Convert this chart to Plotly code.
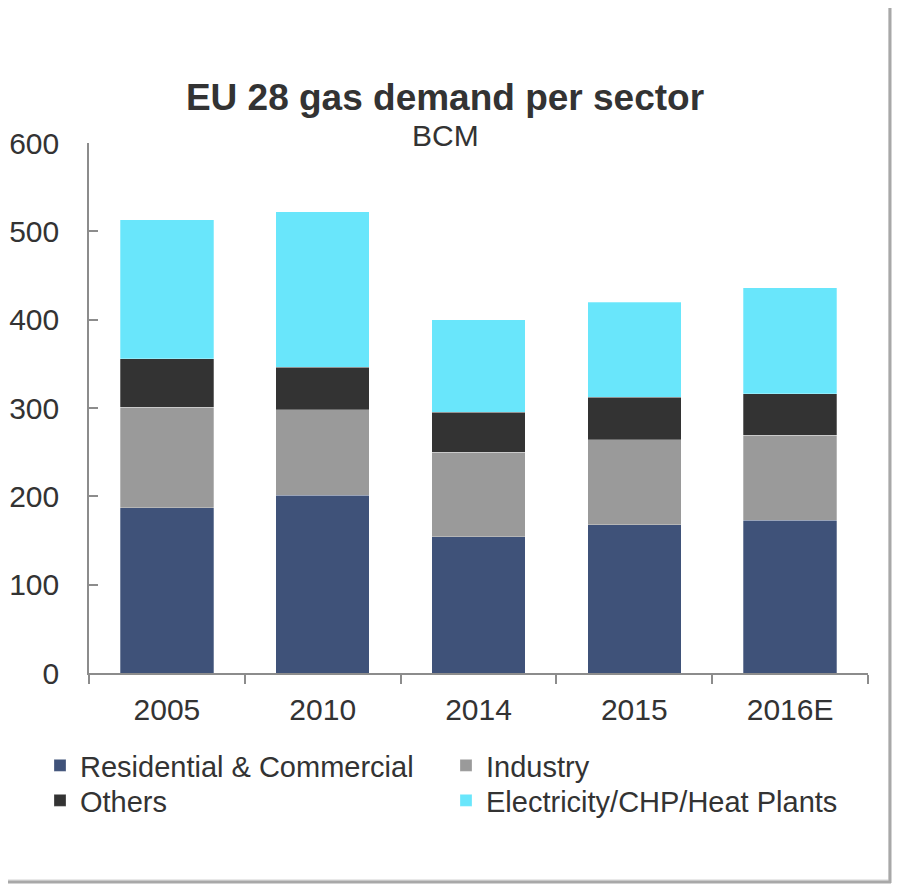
import plotly.graph_objects as go

# EU 28 gas demand per sector, BCM
years = ["2005", "2010", "2014", "2015", "2016E"]
residential = [187, 201, 154, 168, 173]
industry = [114, 97, 96, 96, 96]
others = [55, 48, 45, 48, 47]
electricity = [157, 176, 105, 108, 120]

series = [
    ("Residential & Commercial", residential, "#3F5279", "legend"),
    ("Industry", industry, "#9A9A9A", "legend"),
    ("Others", others, "#333333", "legend2"),
    ("Electricity/CHP/Heat Plants", electricity, "#69E6FB", "legend2"),
]

FONT = "Liberation Sans, Arial, sans-serif"
TXT = "#333333"
AX = "#8C8C8C"

# the page body adds an 8px offset, so the figure is 8px smaller and all
# target positions below are given in page pixels and shifted by OFF
OFF = 8
W, H = 900 - OFF, 887 - OFF
L, R, T, B = 89 - OFF, 32, 143 - OFF, 214
pw, ph = W - L - R, H - T - B


def px_x(x):
    return (x - OFF - L) / pw


def px_y(y):
    return (H - B - (y - OFF)) / ph


fig = go.Figure()
for name, vals, col, leg in series:
    fig.add_trace(go.Bar(x=years, y=vals, name=name, marker_color=col, legend=leg,
                         marker_line=dict(width=0.8, color="rgba(255,255,255,0.35)")))

legend_style = dict(orientation="h", xanchor="left", yanchor="top", entrywidth=361,
                    font=dict(size=29, color=TXT), traceorder="normal",
                    bgcolor="rgba(0,0,0,0)")

fig.update_layout(
    width=W, height=H,
    margin=dict(l=L, r=R, t=T, b=B, autoexpand=False),
    barmode="stack", bargap=0.4,
    plot_bgcolor="white", paper_bgcolor="white",
    font=dict(family=FONT, size=29, color=TXT),
    title=dict(text="<b>EU 28 gas demand per sector</b>", xref="container",
               x=(445 - OFF) / W, xanchor="center",
               y=1 - (97 - OFF) / H, yanchor="middle", font=dict(size=37, color=TXT)),
    legend=dict(x=px_x(40), y=px_y(740), **legend_style),
    legend2=dict(x=px_x(40), y=px_y(775), **legend_style),
    showlegend=True,
)
fig.update_yaxes(range=[0, 600], dtick=100, showgrid=False, zeroline=False,
                 showline=True, linecolor=AX, linewidth=1.5, automargin=False,
                 ticks="inside", ticklen=9, tickcolor=AX, tickwidth=1.5,
                 ticklabelstandoff=22, tickfont=dict(size=30, color=TXT))
fig.update_xaxes(showgrid=False, showline=True, linecolor=AX, linewidth=1.5,
                 ticks="outside", ticklen=9, tickcolor=AX, tickwidth=1.5,
                 tickson="boundaries", ticklabelstandoff=9, automargin=False,
                 tickfont=dict(size=30, color=TXT))

# subtitle
fig.add_annotation(text="BCM", xref="paper", x=px_x(445), yref="paper", y=px_y(136),
                   xanchor="center", yanchor="middle", showarrow=False,
                   font=dict(size=30, color=TXT))

# frame with a soft shadow on right and bottom
fig.add_shape(type="rect", xref="paper", yref="paper",
              x0=px_x(3), x1=px_x(889), y0=px_y(880), y1=px_y(2),
              line=dict(color="#E2E2E2", width=1.5), layer="below")
fig.add_shape(type="line", xref="paper", yref="paper",
              x0=px_x(890), x1=px_x(890), y0=px_y(883), y1=px_y(4),
              line=dict(color="#A8A8A8", width=3))
fig.add_shape(type="line", xref="paper", yref="paper",
              x0=px_x(5), x1=px_x(891), y0=px_y(882), y1=px_y(882),
              line=dict(color="#A8A8A8", width=3))

fig.write_html("out.html")
